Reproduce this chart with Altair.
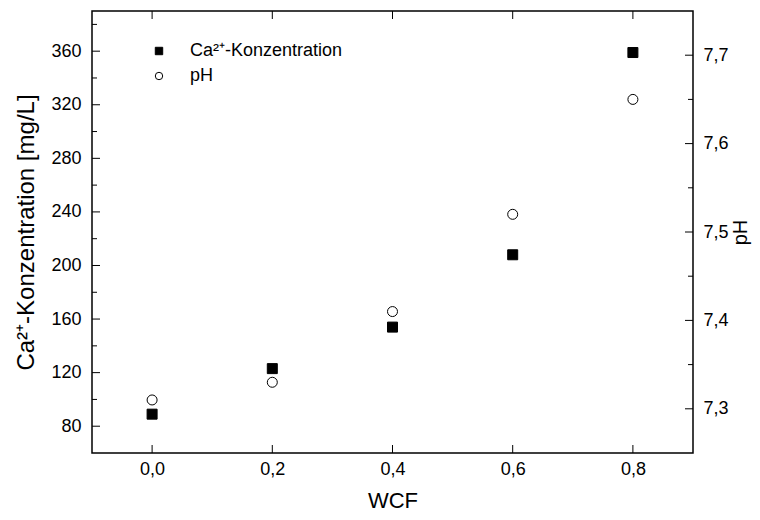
import altair as alt
import pandas as pd

# ---- data ----
wcf = [0.0, 0.2, 0.4, 0.6, 0.8]
ca_conc = [89, 123, 154, 208, 359]
ph_values = [7.31, 7.33, 7.41, 7.52, 7.65]

ca_label = "Ca²⁺-Konzentration"
ph_label = "pH"
left_title = "Ca²⁺-Konzentration [mg/L]"
right_title = "pH"
x_title = "WCF"

x_ticks = [0.0, 0.2, 0.4, 0.6, 0.8]
left_major = [80, 120, 160, 200, 240, 280, 320, 360]
left_minor = [100, 140, 180, 220, 260, 300, 340, 380]
right_major = [7.3, 7.4, 7.5, 7.6, 7.7]
right_minor = [7.35, 7.45, 7.55, 7.65]

x_domain = [-0.1, 0.9]
left_domain = [60, 390]
right_domain = [7.25, 7.75]

# ---- layout ----
W, H = 601, 442
FONT = "Liberation Sans"
MAJ, MIN = 8, 5

x_scale = alt.Scale(domain=x_domain, nice=False, zero=False)
left_scale = alt.Scale(domain=left_domain, nice=False, zero=False)
right_scale = alt.Scale(domain=right_domain, nice=False, zero=False)

ca_df = pd.DataFrame({"WCF": wcf, "value": ca_conc, "series": ca_label})
ph_df = pd.DataFrame({"WCF": wcf, "value": ph_values, "series": ph_label})

shape_scale = alt.Scale(domain=[ca_label, ph_label], range=["square", "circle"])
fill_scale = alt.Scale(domain=[ca_label, ph_label], range=["black", "white"])
stroke_scale = alt.Scale(domain=[ca_label, ph_label], range=["black", "black"])
legend = alt.Legend(title=None, orient="none", legendX=58, legendY=31)

comma1 = "replace(format(datum.value, '.1f'), '.', ',')"

x_enc = alt.X("WCF:Q", scale=x_scale,
              axis=alt.Axis(values=x_ticks, labelExpr=comma1, title=x_title,
                            labelPadding=7, titlePadding=12, titleFontSize=22))


def point_layer(df, y_enc):
    return alt.Chart(df).mark_point(filled=True, size=100, strokeWidth=1, opacity=1).encode(
        x=x_enc,
        y=y_enc,
        shape=alt.Shape("series:N", scale=shape_scale, legend=legend),
        fill=alt.Fill("series:N", scale=fill_scale, legend=legend),
        stroke=alt.Stroke("series:N", scale=stroke_scale, legend=legend),
    )


ca_layer = point_layer(ca_df, alt.Y(
    "value:Q", scale=left_scale,
    axis=alt.Axis(orient="left", values=left_major, format="d", title=left_title,
                  labelPadding=11, titlePadding=12, titleFontSize=24)))

ph_layer = point_layer(ph_df, alt.Y(
    "value:Q", scale=right_scale,
    axis=alt.Axis(orient="right", values=right_major, labelExpr=comma1,
                  title=right_title, titleAngle=270, labelPadding=10,
                  titlePadding=22, titleFontSize=20)))


def y_ticks(vals, scale, x0, x1):
    return alt.Chart(pd.DataFrame({"v": vals})).mark_rule(color="black", strokeWidth=1).encode(
        y=alt.Y("v:Q", scale=scale, axis=None),
        x=alt.value(x0), x2=alt.value(x1),
    )


def x_tick_layer(y0, y1):
    return alt.Chart(pd.DataFrame({"WCF": x_ticks})).mark_rule(color="black", strokeWidth=1).encode(
        x=alt.X("WCF:Q", scale=x_scale),
        y=alt.value(y0), y2=alt.value(y1),
    )


chart = alt.layer(
    ca_layer,
    ph_layer,
    y_ticks(left_major, left_scale, 0, MAJ),
    y_ticks(left_minor, left_scale, 0, MIN),
    y_ticks(right_major, right_scale, W, W - MAJ),
    y_ticks(right_minor, right_scale, W, W - MIN),
    x_tick_layer(H, H - MAJ),
    x_tick_layer(0, MAJ),
).resolve_scale(y="independent").properties(
    width=W, height=H,
    background="white",
    autosize=alt.AutoSizeParams(type="none"),
    padding={"left": 84, "top": 3, "right": 59, "bottom": 59},
).configure_view(
    stroke="black", strokeWidth=1.5
).configure_axis(
    grid=False, domain=False, ticks=False,
    labelFont=FONT, labelFontSize=18, labelColor="black",
    titleFont=FONT, titleFontSize=22, titleColor="black", titleFontWeight="normal",
).configure_legend(
    labelFont=FONT, labelFontSize=18, labelColor="black",
    symbolSize=55, symbolStrokeWidth=1, labelOffset=22, rowPadding=7, padding=0,
)

chart.save("out.html", embed_options={"renderer": "svg", "actions": False})
